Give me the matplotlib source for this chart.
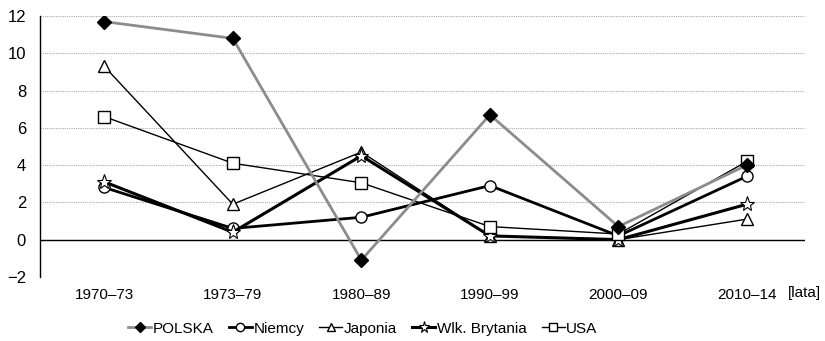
import matplotlib.pyplot as plt
import numpy as np

plt.rcParams["font.family"] = ["Liberation Sans Narrow", "Liberation Sans", "DejaVu Sans"]

periods = ["1970–73", "1973–79", "1980–89", "1990–99", "2000–09", "2010–14"]
polska = [11.7, 10.8, -1.1, 6.7, 0.7, 4.0]
niemcy = [2.8, 0.6, 1.2, 2.9, 0.2, 3.4]
japonia = [9.3, 1.9, 4.7, 0.2, 0.0, 1.1]
wlk_brytania = [3.1, 0.4, 4.5, 0.2, 0.0, 1.9]
usa = [6.6, 4.1, 3.05, 0.7, 0.3, 4.2]

x = np.arange(len(periods))

fig = plt.figure(figsize=(8.25, 3.41), dpi=100)
ax = fig.add_axes([0.0485, 0.188, 0.927, 0.765])

ax.set_ylim(-2, 12)
ax.set_xlim(-0.5, 5.45)
ax.set_yticks(range(-2, 13, 2))
ax.grid(axis="y", linestyle=(0, (1, 1)), color="#aaaaaa", linewidth=0.8)
ax.set_axisbelow(True)
ax.axhline(0, color="black", linewidth=1.0, zorder=1)

for s in ("top", "right", "bottom"):
    ax.spines[s].set_visible(False)
ax.spines["left"].set_linewidth(1.0)

common = dict(markersize=8, markeredgecolor="black", markeredgewidth=1.0)
ax.plot(x, polska, color="#8c8c8c", linewidth=2.0, marker="D", markerfacecolor="black",
        markersize=7, markeredgecolor="black", label="POLSKA", zorder=5)
ax.plot(x, niemcy, color="black", linewidth=2.0, marker="o", markerfacecolor="white",
        label="Niemcy", zorder=4, **common)
ax.plot(x, japonia, color="black", linewidth=1.0, marker="^", markerfacecolor="white",
        label="Japonia", zorder=4, **common)
ax.plot(x, wlk_brytania, color="black", linewidth=2.2, marker="*", markerfacecolor="white",
        label="Wlk. Brytania", zorder=4, markersize=11, markeredgecolor="black",
        markeredgewidth=0.8)
ax.plot(x, usa, color="black", linewidth=1.0, marker="s", markerfacecolor="white",
        label="USA", zorder=4, **common)

ax.set_xticks(x)
ax.set_xticklabels(periods)
ax.tick_params(axis="both", length=0, labelsize=11, pad=8)
ax.tick_params(axis="y", labelsize=12, pad=10)

# unit label sits right of the last category label
ax.text(0.978, -0.035, "[lata]", fontsize=11, ha="left", va="top",
        transform=ax.transAxes)

fig.legend(loc="lower center", bbox_to_anchor=(0.44, -0.025), ncol=5, frameon=False,
           fontsize=11, handlelength=1.5, handletextpad=0.1, columnspacing=1.0,
           markerscale=0.75)

fig.savefig("out.png", dpi=100)
